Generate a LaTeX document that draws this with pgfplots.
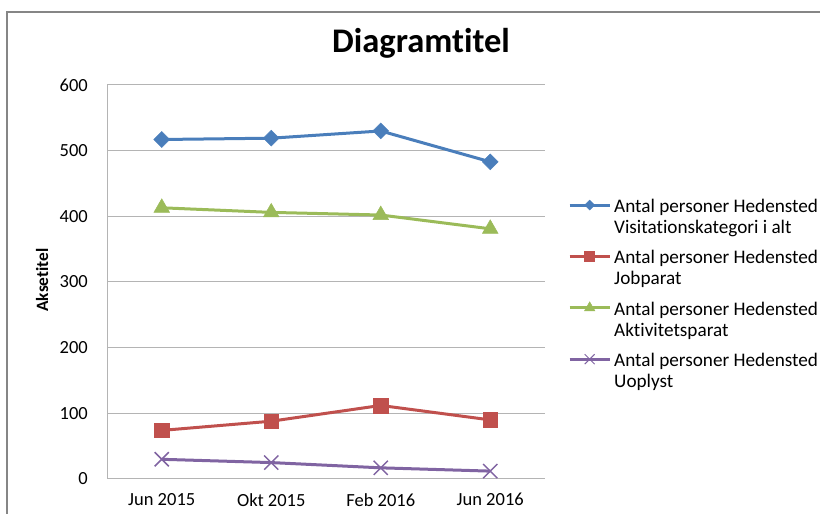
\documentclass[border=0pt]{standalone}
\usepackage{pgfplots}
\pgfplotsset{compat=1.18}
\usepackage{fontspec}
\setmainfont{Carlito}[Ligatures={NoCommon}]
\definecolor{cBlue}{RGB}{74,126,187}
\definecolor{cRed}{RGB}{192,80,77}
\definecolor{cGreen}{RGB}{155,187,89}
\definecolor{cPurple}{RGB}{128,100,162}
\definecolor{cGrid}{RGB}{180,180,180}
\definecolor{cFrame}{RGB}{134,134,134}
\begin{document}
\begin{tikzpicture}
\path[use as bounding box] (0pt,0pt) rectangle (820pt,514pt);
\draw[cFrame, line width=1.6pt] (7pt,-2pt) -- (7pt,502pt) -- (822pt,502pt);
\begin{axis}[
  at={(107pt,35pt)}, anchor=south west,
  scale only axis, width=438pt, height=394pt,
  xmin=-0.5, xmax=3.5, ymin=0, ymax=600,
  xtick={0,1,2,3},
  xticklabels={Jun 2015, Okt 2015, Feb 2016, Jun 2016},
  ytick={0,100,200,300,400,500,600},
  axis x line*=bottom, axis y line*=left,
  axis line style={cGrid, line width=1pt, -},
  ymajorgrids, grid style={cGrid, line width=1pt},
  major tick length=0pt,
  /pgf/number format/assume math mode=true,
  tick label style={font=\fontsize{18.5}{21}\selectfont, text=black},
  yticklabel style={inner sep=0pt, xshift=-19pt},
  xticklabel style={inner sep=0pt, yshift=-14pt},
  title={Diagramtitel},
  title style={font=\fontsize{34.5}{40}\selectfont\bfseries, at={(axis description cs:0.717,1.0685)}, anchor=base},
  ylabel={Aksetitel},
  ylabel style={font=\fontsize{17.3}{20}\selectfont\bfseries, at={(axis description cs:-0.1484,0.505)}, anchor=center},
  legend style={draw=none, fill=none, at={(axis description cs:1.0525,0.7107)}, anchor=north west,
    inner sep=0pt, row sep=15.5pt, column sep=3pt,
    nodes={inner sep=0pt, align=left, font=\fontsize{19.2}{21}\selectfont, text=black},
    cells={anchor=west}},
  legend image code/.code={\draw[mark repeat=2,mark phase=2,yshift=12pt,#1] plot coordinates {(0pt,0pt) (20pt,0pt) (40pt,0pt)};},
]
\addplot[color=cBlue, line width=3pt, mark=square*, mark size=5.6pt, mark options={rotate=45, solid, line width=0.5pt, fill=cBlue},
  legend image post style={mark size=3.5pt}]
  coordinates {(0,517) (1,519) (2,530) (3,483)};
\addlegendentry{Antal personer Hedensted\\Visitationskategori i alt}
\addplot[color=cRed, line width=3pt, mark=square*, mark size=7.3pt, mark options={solid, line width=0.5pt, fill=cRed},
  legend image post style={mark size=5pt}]
  coordinates {(0,74) (1,88) (2,112) (3,90)};
\addlegendentry{Antal personer Hedensted\\Jobparat}
\addplot[color=cGreen, line width=3pt, mark=triangle*, mark size=9pt, mark options={solid, line width=0.5pt, fill=cGreen},
  legend image post style={mark size=6pt}]
  coordinates {(0,413) (1,406) (2,402) (3,381)};
\addlegendentry{Antal personer Hedensted\\Aktivitetsparat}
\addplot[color=cPurple, line width=3pt, mark=x, mark size=10pt, mark options={solid, line width=1.5pt},
  legend image post style={mark size=7pt, mark options={line width=1pt}}]
  coordinates {(0,30) (1,25) (2,17) (3,12)};
\addlegendentry{Antal personer Hedensted\\Uoplyst}
\end{axis}
\end{tikzpicture}
\end{document}
